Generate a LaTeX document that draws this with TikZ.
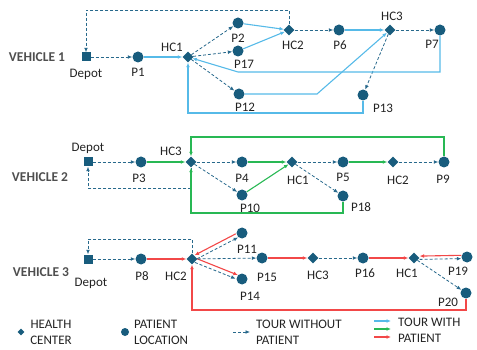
\documentclass[tikz,border=0pt]{standalone}
\usepackage{fontspec}
\setmainfont{Carlito}
\usetikzlibrary{shapes.geometric,arrows.meta}
\definecolor{nodeblue}{RGB}{24,92,125}
\definecolor{dashblue}{RGB}{40,105,140}
\definecolor{lightblue}{RGB}{86,186,232}
\definecolor{tgreen}{RGB}{40,184,84}
\definecolor{tred}{RGB}{242,72,72}
\definecolor{txt}{RGB}{35,35,35}
\tikzset{
  hc/.style={diamond, fill=nodeblue, inner sep=0pt, minimum size=11pt},
  pt/.style={circle, fill=nodeblue, inner sep=0pt, minimum size=11pt},
  dep/.style={rectangle, fill=nodeblue, inner sep=0pt, minimum size=9pt},
  lbl/.style={text=txt, inner sep=0pt, font=\fontsize{13}{15}\selectfont},
  veh/.style={text=txt!80, inner sep=0pt, font=\fontsize{13.5}{15}\selectfont\bfseries},
  leg/.style={text=txt, inner sep=0pt, font=\fontsize{13}{16}\selectfont},
  tip/.style={-{Latex[length=4.5pt,width=3.8pt]}},
  tourempty/.style={draw=dashblue, densely dashed, line width=0.8pt, tip},
  tourblue/.style={draw=lightblue, line width=1.1pt, tip},
  tourgreen/.style={draw=tgreen, line width=1.1pt, tip},
  tourred/.style={draw=tred, line width=1.1pt, tip},
}
\begin{document}
\begin{tikzpicture}[x=1pt,y=-1pt]
\useasboundingbox (0,0) rectangle (477,350);

% ---------------- Vehicle 1 ----------------
\node[veh] (v1) at (37,57) {VEHICLE 1};
\node[dep] (a0) at (86,57) {};
\node[pt]  (a1) at (138,57) {};
\node[hc]  (ahc1) at (188,57) {};
\node[pt]  (a2) at (238,23) {};
\node[pt]  (a17) at (238,51) {};
\node[pt]  (a12) at (239,94) {};
\node[hc]  (ahc2) at (289,30) {};
\node[pt]  (a6) at (339,30) {};
\node[hc]  (ahc3) at (390,30) {};
\node[pt]  (a7) at (440,30) {};
\node[pt]  (a13) at (363,95) {};

\node[lbl] (la0) at (86,74) {Depot};
\node[lbl] (la1) at (138,72) {P1};
\node[lbl] (lahc1) at (172,47) {HC1};
\node[lbl] (la2) at (238,38) {P2};
\node[lbl] (la17) at (244,64) {P17};
\node[lbl] (la12) at (245,107) {P12};
\node[lbl] (lahc2) at (293,45) {HC2};
\node[lbl] (la6) at (340,45) {P6};
\node[lbl] (lahc3) at (392,16) {HC3};
\node[lbl] (la7) at (432,44) {P7};
\node[lbl] (la13) at (383,108) {P13};

\coordinate (c1) at (289,10);
\coordinate (c2) at (440,72);
\coordinate (c3) at (238,72);
\coordinate (c4) at (317,94);
\coordinate (c5) at (363,113);

\draw[tourempty] (ahc2) -- (c1) -| (a0);
\draw[tourempty] (a0) -- (a1);
\draw[tourblue] (a1) -- (ahc1);
\draw[tourempty] (ahc1) -- (a2);
\draw[tourempty] (ahc1) -- (a17);
\draw[tourempty] (ahc1) -- (a12);
\draw[tourblue] (a2) -- (ahc2);
\draw[tourblue] (a17) -- (ahc2);
\draw[tourempty] (ahc2) -- (a6);
\draw[tourblue] (a6) -- (ahc3);
\draw[tourempty] (ahc3) -- (a7);
\draw[tourempty] (ahc3) -- (a13);
\draw[tourblue] (a12) -- (c4) -- (ahc3);
\draw[tourblue] (a7) -- (c2) -- (c3) -- (ahc1);
\draw[tourblue] (a13) -- (c5) -| (ahc1);

% ---------------- Vehicle 2 ----------------
\node[veh] (v2) at (40,177) {VEHICLE 2};
\node[dep] (b0) at (88,162) {};
\node[pt]  (b3) at (141,162) {};
\node[hc]  (bhc3) at (191,162) {};
\node[pt]  (b4) at (242,162) {};
\node[pt]  (b10) at (242,195) {};
\node[hc]  (bhc1) at (292,162) {};
\node[pt]  (b5) at (343,162) {};
\node[hc]  (bhc2) at (393,162) {};
\node[pt]  (b9) at (444,162) {};
\node[pt]  (b18) at (343,196) {};

\node[lbl] (lb0) at (88,148) {Depot};
\node[lbl] (lb3) at (139,178) {P3};
\node[lbl] (lbhc3) at (171,151) {HC3};
\node[lbl] (lb4) at (242,178) {P4};
\node[lbl] (lb10) at (250,208) {P10};
\node[lbl] (lbhc1) at (298,180) {HC1};
\node[lbl] (lb5) at (343,177) {P5};
\node[lbl] (lbhc2) at (398,180) {HC2};
\node[lbl] (lb9) at (443,179) {P9};
\node[lbl] (lb18) at (361,207) {P18};

\coordinate (d1) at (191,188);
\coordinate (d2) at (444,137);
\coordinate (d3) at (343,213);

\draw[tourempty] (bhc3) -- (d1) -| (b0);
\draw[tourempty] (b0) -- (b3);
\draw[tourgreen] (b3) -- (bhc3);
\draw[tourempty] (bhc3) -- (b4);
\draw[tourempty] (bhc3) -- (b10);
\draw[tourgreen] (b4) -- (bhc1);
\draw[tourgreen] (b10) -- (bhc1);
\draw[tourempty] (bhc1) -- (b5);
\draw[tourempty] (bhc1) -- (b18);
\draw[tourgreen] (b5) -- (bhc2);
\draw[tourempty] (bhc2) -- (b9);
\draw[tourgreen] (b9) -- (d2) -| (bhc3);
\draw[tourgreen] (b18) -- (d3) -| (bhc3);

% ---------------- Vehicle 3 ----------------
\node[veh] (v3) at (41,272) {VEHICLE 3};
\node[dep] (e0) at (88,259) {};
\node[pt]  (e8) at (141,259) {};
\node[hc]  (ehc2) at (192,259) {};
\node[pt]  (e11) at (242,233) {};
\node[pt]  (e15) at (262,258) {};
\node[pt]  (e14) at (242,279) {};
\node[hc]  (ehc3) at (313,258) {};
\node[pt]  (e16) at (363,258) {};
\node[hc]  (ehc1) at (414,258) {};
\node[pt]  (e19) at (467,257) {};
\node[pt]  (e20) at (466,293) {};

\node[lbl] (le0) at (91,283) {Depot};
\node[lbl] (le8) at (142,276) {P8};
\node[lbl] (lehc2) at (176,276) {HC2};
\node[lbl] (le11) at (247,249) {P11};
\node[lbl] (le15) at (267,277) {P15};
\node[lbl] (le14) at (250,296) {P14};
\node[lbl] (lehc3) at (318,275) {HC3};
\node[lbl] (le16) at (365,273) {P16};
\node[lbl] (lehc1) at (407,273) {HC1};
\node[lbl] (le19) at (458,271) {P19};
\node[lbl] (le20) at (448,302) {P20};

\coordinate (f1) at (192,239);
\coordinate (f2) at (466,310);

\draw[tourempty] (ehc2) -- (f1) -| (e0);
\draw[tourempty] (e0) -- (e8);
\draw[tourred] (e8) -- (ehc2);
\draw[tourempty, transform canvas={shift={(1.2pt,-1.8pt)}}] (ehc2) -- (e11);
\draw[tourred, transform canvas={shift={(-1.2pt,1.8pt)}}] (e11) -- (ehc2);
\draw[tourempty, transform canvas={shift={(-1.2pt,-1.8pt)}}] (ehc2) -- (e14);
\draw[tourred, transform canvas={shift={(1.2pt,1.8pt)}}] (ehc2) -- (e14);
\draw[tourempty] (ehc2) -- (e15);
\draw[tourred] (e15) -- (ehc3);
\draw[tourempty] (ehc3) -- (e16);
\draw[tourred] (e16) -- (ehc1);
\draw[tourempty, transform canvas={yshift=-1.5pt}] (ehc1) -- (e19);
\draw[tourred, transform canvas={yshift=1.8pt}] (e19) -- (ehc1);
\draw[tourempty] (ehc1) -- (e20);
\draw[tourred] (e20) -- (f2) -| (ehc2);

% ---------------- Legend ----------------
\node[hc, minimum size=7pt] (kd) at (21,332) {};
\node[leg, align=center] (kdl) at (51,332) {HEALTH\\CENTER};
\node[pt, minimum size=8pt] (kc) at (125,332) {};
\node[leg, align=left, anchor=west] (kcl) at (134,332) {PATIENT\\LOCATION};
\coordinate (k1) at (233,332);
\coordinate (k2) at (250,332);
\draw[tourempty] (k1) -- (k2);
\node[leg, align=left, anchor=west] (kel) at (256,332) {TOUR WITHOUT\\PATIENT};
\coordinate (m1) at (374,321);
\coordinate (m2) at (391,321);
\coordinate (m3) at (374,329);
\coordinate (m4) at (391,329);
\coordinate (m5) at (374,337);
\coordinate (m6) at (391,337);
\draw[tourblue] (m1) -- (m2);
\draw[tourgreen] (m3) -- (m4);
\draw[tourred] (m5) -- (m6);
\node[leg, align=left, anchor=west] (kwl) at (398,330) {TOUR WITH\\PATIENT};
\end{tikzpicture}
\end{document}
